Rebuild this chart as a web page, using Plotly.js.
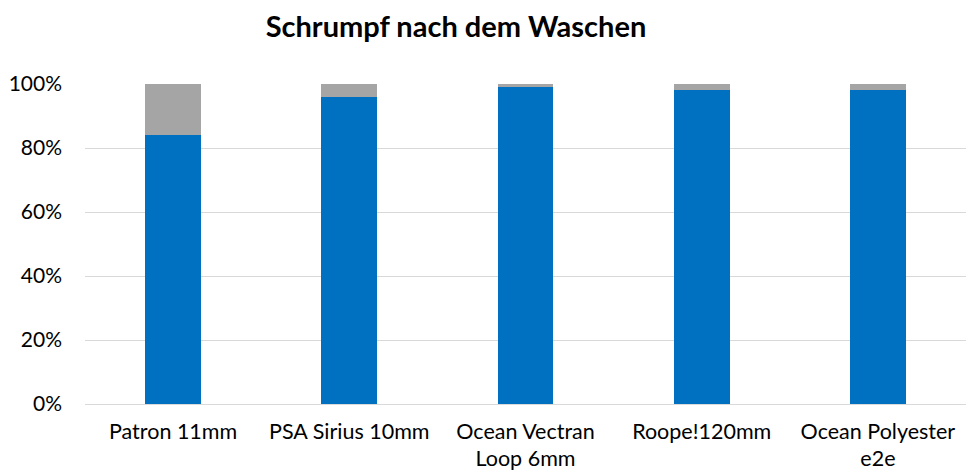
<!DOCTYPE html>
<html>
<head>
<meta charset="utf-8">
<script src="https://cdn.plot.ly/plotly-3.0.1.min.js"></script>
<style>html,body{margin:0;padding:0;background:#fff;}#chart{width:966px;height:472px;}</style>
</head>
<body>
<div id="chart"></div>
<script>
var categories = ["Patron 11mm", "PSA Sirius 10mm", "Ocean Vectran<br>Loop 6mm", "Roope!120mm", "Ocean Polyester<br>e2e"];
var remaining = [0.84, 0.96, 0.99, 0.98, 0.98];
var shrinkage = [0.16, 0.04, 0.01, 0.02, 0.02];

var traces = [
  {type: "bar", x: categories, y: remaining, marker: {color: "#0070c0"}, name: "Länge nach Waschen", hoverinfo: "y"},
  {type: "bar", x: categories, y: shrinkage, marker: {color: "#a5a5a5"}, name: "Schrumpf", hoverinfo: "y"}
];

var font = "Lato, 'Open Sans', sans-serif";
var layout = {
  width: 966, height: 472,
  barmode: "stack",
  bargap: 0.684,
  showlegend: false,
  paper_bgcolor: "#fff", plot_bgcolor: "#fff",
  margin: {l: 85, r: 0, t: 84, b: 68},
  title: {text: "<b>Schrumpf nach dem Waschen</b>", x: 0.472, xref: "container", xanchor: "center", y: 0.943, yref: "container", yanchor: "middle",
          font: {family: font, size: 29, color: "#000"}},
  xaxis: {tickfont: {family: font, size: 21.5, color: "#000"}, showgrid: false, showline: false, ticks: "", ticklabelstandoff: 12, automargin: false},
  yaxis: {range: [0, 1], tickformat: ".0%", dtick: 0.2, tickfont: {family: font, size: 21, color: "#000"},
          gridcolor: "#d9d9d9", gridwidth: 1, zeroline: true, zerolinecolor: "#d9d9d9", zerolinewidth: 1,
          showline: false, ticks: "", ticklabelstandoff: 22, automargin: false}
};
Plotly.newPlot("chart", traces, layout, {displayModeBar: false, staticPlot: true});
</script>
</body>
</html>
